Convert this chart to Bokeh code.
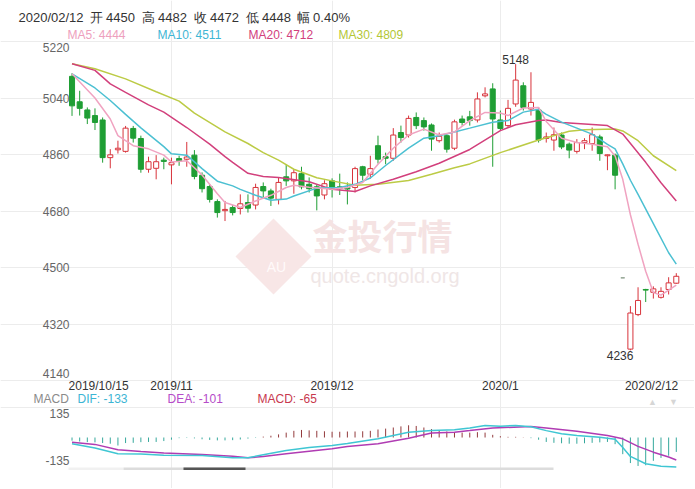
from bokeh.plotting import figure
from bokeh.models import (ColumnDataSource, Label, FixedTicker, Range1d, BoxAnnotation,
                          PolyAnnotation, Grid)
from bokeh.embed import file_html
from bokeh.resources import INLINE

# ---------------- data ----------------
idx = list(range(80))   # trading days 2019/10/15 .. 2020/02/12
opens = [5109, 5028, 5002, 4984, 4970, 4850, 4875, 4870, 4943, 4911,
         4813, 4816, 4842, 4827, 4847, 4845, 4858, 4794, 4758, 4710,
         4681, 4691, 4688, 4707, 4699, 4758, 4744, 4717, 4789, 4776,
         4799, 4765, 4757, 4731, 4776, 4757, 4755, 4755, 4821, 4797,
         4888, 4853, 4848, 4930, 4922, 4978, 4968, 4954, 4904, 4920,
         4880, 4973, 4980, 4970, 5047, 5069, 4970, 4952, 5021, 5079,
         5005, 5002, 4911, 4906, 4922, 4893, 4870, 4898, 4895, 4916,
         4856, 4858, 4467, 4240, 4350, 4430, 4421, 4405, 4430, 4450]
highs = [5119, 5063, 5010, 5007, 4978, 4877, 4904, 4951, 4951, 4920,
         4853, 4858, 4850, 4850, 4856, 4900, 4874, 4803, 4765, 4717,
         4712, 4699, 4733, 4733, 4767, 4771, 4751, 4787, 4829, 4813,
         4821, 4787, 4763, 4778, 4784, 4799, 4771, 4821, 4824, 4856,
         4920, 4866, 4944, 4952, 4984, 4994, 4978, 4959, 4930, 4925,
         4971, 4984, 4999, 5058, 5074, 5087, 5000, 5034, 5148, 5090,
         5122, 5010, 4930, 4946, 4930, 4898, 4909, 4912, 4946, 4923,
         4860, 4863, 4467, 4377, 4437, 4432, 4440, 4437, 4469, 4482]
lows = [4983, 4984, 4957, 4938, 4834, 4816, 4863, 4866, 4898, 4802,
        4802, 4781, 4813, 4765, 4824, 4821, 4781, 4739, 4707, 4659,
        4648, 4666, 4669, 4675, 4685, 4723, 4696, 4701, 4760, 4735,
        4749, 4739, 4682, 4717, 4723, 4731, 4701, 4739, 4778, 4783,
        4831, 4829, 4840, 4898, 4914, 4941, 4936, 4872, 4898, 4866,
        4874, 4952, 4952, 4962, 5042, 4821, 4936, 4946, 5012, 5000,
        4984, 4898, 4898, 4872, 4877, 4848, 4863, 4877, 4872, 4840,
        4810, 4749, 4467, 4236, 4345, 4390, 4401, 4401, 4414, 4448]
closes = [5015, 5007, 4976, 4962, 4850, 4859, 4880, 4944, 4912, 4813,
          4837, 4837, 4838, 4834, 4840, 4852, 4790, 4751, 4717, 4675,
          4685, 4675, 4703, 4689, 4755, 4744, 4721, 4771, 4776, 4802,
          4757, 4751, 4728, 4767, 4749, 4752, 4750, 4815, 4794, 4815,
          4845, 4848, 4922, 4914, 4975, 4952, 4948, 4909, 4918, 4877,
          4964, 4962, 4968, 5037, 5053, 4973, 4943, 5007, 5097, 5010,
          5026, 4906, 4916, 4923, 4884, 4874, 4898, 4904, 4923, 4863,
          4859, 4794, 4467, 4355, 4395, 4428, 4432, 4424, 4451, 4472]

ma5_x = [0, 3, 5, 6, 8, 10, 12, 13, 15, 17, 19, 20, 22, 24, 26, 28, 29, 31, 34, 36,
         38, 40, 42, 44, 46, 48, 50, 52, 54, 56, 57, 59, 61, 62, 64, 66, 68, 70, 71, 72,
         73, 74, 75, 76, 77, 78, 79]
ma5_v = [5117, 5040, 4973, 4920, 4888, 4878, 4858, 4836, 4840, 4795, 4735, 4707, 4691, 4712, 4730, 4755, 4762, 4756, 4749, 4755,
         4771, 4829, 4880, 4922, 4941, 4922, 4932, 4968, 4994, 4992, 4984, 5008, 5010, 4965, 4912, 4898, 4893, 4885, 4855, 4781,
         4668, 4574, 4488, 4420, 4412, 4428, 4444]
ma10_x = [0, 3, 5, 7, 9, 12, 13, 15, 17, 19, 21, 22, 24, 26, 28, 29, 32, 35, 37, 39,
          41, 44, 46, 48, 50, 52, 55, 57, 59, 61, 62, 64, 66, 68, 70, 71, 72, 73, 74, 76,
          78, 79]
ma10_v = [5117, 5072, 5032, 4988, 4945, 4885, 4862, 4858, 4815, 4775, 4760, 4749, 4730, 4714, 4718, 4728, 4753, 4755, 4765, 4785,
          4825, 4880, 4912, 4920, 4932, 4944, 4963, 4968, 4995, 5004, 4988, 4963, 4944, 4925, 4892, 4878, 4830, 4778, 4733, 4640,
          4547, 4511]
ma20_x = [0, 3, 5, 7, 10, 12, 15, 18, 20, 21, 23, 25, 27, 31, 34, 37, 39, 42, 45, 48,
          52, 56, 58, 61, 62, 64, 67, 70, 72, 75, 77, 79]
ma20_v = [5149, 5128, 5085, 5058, 5018, 4995, 4946, 4893, 4853, 4835, 4800, 4790, 4787, 4773, 4749, 4742, 4760, 4781, 4805, 4832,
          4876, 4936, 4955, 4968, 4970, 4962, 4957, 4952, 4925, 4835, 4770, 4712]
ma30_x = [0, 3, 7, 11, 14, 16, 20, 23, 25, 27, 29, 32, 34, 37, 40, 44, 47, 50, 52, 56,
          61, 65, 67, 71, 72, 74, 76, 79]
ma30_v = [5149, 5133, 5101, 5060, 5030, 4992, 4932, 4895, 4866, 4842, 4813, 4786, 4776, 4762, 4765, 4777, 4797, 4818, 4830, 4866,
          4906, 4934, 4939, 4941, 4935, 4904, 4856, 4809]

dif_x = [0, 3, 6, 9, 12, 17, 21, 23, 25, 28, 31, 34, 36, 40, 44, 47, 50, 52, 54, 56,
         58, 60, 62, 64, 66, 69, 71, 72, 73, 75, 77, 79]
dif_v = [-28, -47, -73, -74, -80, -81, -91, -91, -78, -58, -45, -36, -27, -6, 24, 32, 35, 43, 54, 51,
         54, 48, 31, 17, 9, 1, -8, -45, -85, -118, -129, -133]
dea_x = [0, 3, 6, 9, 12, 17, 21, 23, 25, 28, 31, 34, 36, 40, 44, 47, 50, 52, 55, 60,
         62, 66, 70, 72, 74, 76, 78, 79]
dea_v = [-21, -31, -55, -63, -70, -77, -84, -91, -86, -73, -62, -51, -40, -28, -3, 20, 24, 31, 43, 49,
         43, 28, 9, -6, -40, -66, -88, -101]
macd_hist = [-14, -18, -21, -22, -25, -28, -36, -25, -24, -21,
             -20, -20, -16, -10, -3, -2, -4, -8, -11, -13,
             -13, -12, -9, -5, -2, 4, 8, 14, 22, 30,
             34, 32, 30, 28, 26, 26, 27, 27, 28, 30,
             36, 40, 45, 50, 55, 52, 45, 38, 32, 27,
             24, 22, 22, 24, 22, 12, 6, 3, 3, 1,
             -3, -10, -20, -24, -26, -28, -28, -26, -24, -22,
             -20, -30, -75, -115, -128, -125, -105, -92, -82, -65]

y_ticks = [4140, 4320, 4500, 4680, 4860, 5040, 5220]
macd_ticks = [-135, 135]
month_idx = [13, 34, 56]
date_idx = [0, 13, 34, 56, 79]
date_labels = ["2019/10/15", "2019/11", "2019/12", "2020/1", "2020/2/12"]

header_items = ["2020/02/12", "开 4450", "高 4482", "收 4472", "低 4448", "幅 0.40%"]
ma_legend = ["MA5: 4444", "MA10: 4511", "MA20: 4712", "MA30: 4809"]
macd_legend = ["MACD", "DIF: -133", "DEA: -101", "MACD: -65"]

# ---------------- styling / layout ----------------
FONT = "Liberation Sans"
RED = "#d8333b"
GREEN = "#1f9e34"
FLAT = "#8fa08f"
C_MA = ["#f0a3c1", "#4cc0d2", "#d2407c", "#bccb45"]
C_MA_TXT = ["#eea0bd", "#3fb6d4", "#d2407c", "#b3c735"]
C_MACD_TXT = ["#8a8a8a", "#3cb5d4", "#b54cc8", "#c8384e"]
C_DIF, C_DEA = "#3fc6d3", "#b03cb3"
C_POS, C_NEG = "#933a3c", "#35a89c"
GRID = "#ececec"

W, H = 694, 488
X0, X1 = -0.2, 79.55      # x data at page x PL / PR
PL, PR = 70, 680          # plot area left/right on page
T1, B1 = 41, 380          # price panel top/bottom on page
T2, B2 = 407, 467         # macd panel top/bottom on page (135 .. -135)


def dx(px):
    return X0 + (px - PL) * (X1 - X0) / (PR - PL)


def dy1(py):
    return max(y_ticks) - (py - T1) * (max(y_ticks) - min(y_ticks)) / (B1 - T1)


def dy2(py):
    return max(macd_ticks) - (py - T2) * (max(macd_ticks) - min(macd_ticks)) / (B2 - T2)


def lab(x, y, text, color, size, align="left", baseline="middle", font=FONT, **kw):
    p.add_layout(Label(x=x, y=y, text=text, text_color=color, text_font_size=f"{size}px",
                       text_align=align, text_baseline=baseline, text_font=font, **kw))


p = figure(width=W, height=H, x_range=Range1d(dx(0), dx(W)), y_range=Range1d(dy1(H), dy1(0)),
           output_backend="svg", toolbar_location=None, title=None,
           x_axis_location=None, y_axis_location=None,
           min_border=0, min_border_left=0, min_border_right=0, min_border_top=0, min_border_bottom=0)
p.extra_y_ranges = {"macd": Range1d(dy2(H), dy2(0))}
p.outline_line_color = None
p.background_fill_color = "white"
p.border_fill_color = "white"

# grids
p.xgrid.ticker = FixedTicker(ticks=month_idx)
p.xgrid.bounds = (dy1(B2), dy1(T1))
p.xgrid.grid_line_color = GRID
p.ygrid.ticker = FixedTicker(ticks=y_ticks)
p.ygrid.bounds = (dx(PL), dx(PR))
p.ygrid.grid_line_color = GRID
p.add_layout(Grid(dimension=1, ticker=FixedTicker(ticks=[max(macd_ticks)]), y_range_name="macd",
                  bounds=(dx(PL), dx(PR)), grid_line_color=GRID))

# watermark
dcx, dcy, hd = 273, 256, 38
p.add_layout(PolyAnnotation(xs=[dx(dcx - hd), dx(dcx), dx(dcx + hd), dx(dcx)],
                            ys=[dy1(dcy), dy1(dcy - hd), dy1(dcy), dy1(dcy + hd)],
                            fill_color="#f8e6e6", fill_alpha=1.0, line_color=None, level="underlay"))
p.add_layout(Label(x=dx(276), y=dy1(266), text="AU", text_color="#fffafa", text_font_size="14px",
                   text_align="center", text_baseline="middle", text_font=FONT, level="underlay"))
p.add_layout(Label(x=dx(312), y=dy1(234), text="金投行情", text_color="#f5e3e3", text_font_size="35px",
                   text_align="left", text_baseline="middle", text_font="Noto Sans CJK SC",
                   text_font_style="bold", level="underlay"))
p.add_layout(Label(x=dx(310), y=dy1(275), text="quote.cngold.org", text_color="#efe6e6",
                   text_font_size="20px", text_align="left", text_baseline="middle",
                   text_font=FONT, level="underlay"))


# candles
def cds(ids):
    return ColumnDataSource(dict(
        x=ids,
        h=[highs[i] for i in ids],
        l=[lows[i] for i in ids],
        top=[max(opens[i], closes[i]) for i in ids],
        bottom=[min(opens[i], closes[i]) for i in ids],
    ))


up_ids = [i for i in idx if closes[i] > opens[i]]
dn_ids = [i for i in idx if closes[i] < opens[i]]
fl_ids = [i for i in idx if closes[i] == opens[i]]
s_up, s_dn, s_fl = cds(up_ids), cds(dn_ids), cds(fl_ids)

p.segment("x", "h", "x", "l", source=s_up, line_color=RED, line_width=1)
p.vbar(x="x", top="top", bottom="bottom", width=0.66, source=s_up,
       fill_color="white", line_color=RED, line_width=1)
p.segment("x", "h", "x", "l", source=s_dn, line_color=GREEN, line_width=1)
p.vbar(x="x", top="top", bottom="bottom", width=0.66, source=s_dn,
       fill_color=GREEN, line_color=GREEN, line_width=1)
p.vbar(x="x", top="top", bottom="bottom", width=0.5, source=s_fl,
       fill_color=FLAT, line_color=FLAT, line_width=1)

# moving averages
for (xs, vs), col in zip([(ma30_x, ma30_v), (ma20_x, ma20_v), (ma10_x, ma10_v), (ma5_x, ma5_v)],
                         [C_MA[3], C_MA[2], C_MA[1], C_MA[0]]):
    p.line(xs, vs, line_color=col, line_width=1.5)

# extreme labels
i_hi = highs.index(max(highs))
i_lo = lows.index(min(lows))
lab(i_hi, highs[i_hi], str(highs[i_hi]), "#333333", 12, align="center", baseline="bottom")
lab(i_lo, lows[i_lo], str(lows[i_lo]), "#333333", 12, align="right", baseline="top",
    x_offset=3, y_offset=-1)

# y tick labels
for t in y_ticks:
    off = -6 if t == max(y_ticks) else (7 if t == min(y_ticks) else 0)
    lab(dx(PL), t, str(t), "#666666", 12, align="right", x_offset=-1, y_offset=off)

# date labels
for k, (di, dl) in enumerate(zip(date_idx, date_labels)):
    if k == 0:
        lab(di, dy1(385), dl, "#333333", 12, align="left", x_offset=-3.5)
    elif k == len(date_idx) - 1:
        lab(di, dy1(385), dl, "#333333", 12, align="right", x_offset=2)
    else:
        lab(di, dy1(385), dl, "#333333", 12, align="center")

# header rows
for txt, px in zip(header_items, [18, 89, 141, 193, 245, 296]):
    lab(dx(px), dy1(17), txt, "#333333", 13)
for txt, px, col in zip(ma_legend, [67, 157, 248, 338], C_MA_TXT):
    lab(dx(px), dy1(34), txt, col, 12)

# ---------------- MACD panel ----------------
p.add_layout(BoxAnnotation(left=dx(68), right=dx(123), bottom=dy1(469.5), top=dy1(467),
                           fill_color="#f1f1f1", fill_alpha=1, line_color=None))
p.add_layout(BoxAnnotation(left=dx(123), right=dx(553), bottom=dy1(469.5), top=dy1(467),
                           fill_color="#dcdcdc", fill_alpha=1, line_color=None))
p.add_layout(BoxAnnotation(left=dx(183), right=dx(245), bottom=dy1(469.5), top=dy1(467),
                           fill_color="#555555", fill_alpha=1, line_color=None))

pos_i = [i for i in idx if macd_hist[i] >= 0]
neg_i = [i for i in idx if macd_hist[i] < 0]
p.segment(x0=pos_i, y0=[0] * len(pos_i), x1=pos_i, y1=[macd_hist[i] for i in pos_i],
          line_color=C_POS, line_width=1, y_range_name="macd")
p.segment(x0=neg_i, y0=[0] * len(neg_i), x1=neg_i, y1=[macd_hist[i] for i in neg_i],
          line_color=C_NEG, line_width=1, y_range_name="macd")
p.line(dea_x, dea_v, line_color=C_DEA, line_width=1.5, y_range_name="macd")
p.line(dif_x, dif_v, line_color=C_DIF, line_width=1.5, y_range_name="macd")

for t in macd_ticks:
    off = -6 if t == max(macd_ticks) else 7
    p.add_layout(Label(x=dx(PL), y=t, y_range_name="macd", text=str(t), text_color="#666666",
                       text_font_size="12px", text_align="right", text_baseline="middle",
                       text_font=FONT, x_offset=-1, y_offset=off))

for txt, px, col in zip(macd_legend, [33, 77, 167, 257], C_MACD_TXT):
    lab(dx(px), dy1(398), txt, col, 12)

lab(dx(652), dy1(401), "▲", "#d6d6d6", 9, align="center")
lab(dx(673), dy1(401), "▼", "#d6d6d6", 9, align="center")

open("out.html", "w").write(file_html(p, INLINE))
